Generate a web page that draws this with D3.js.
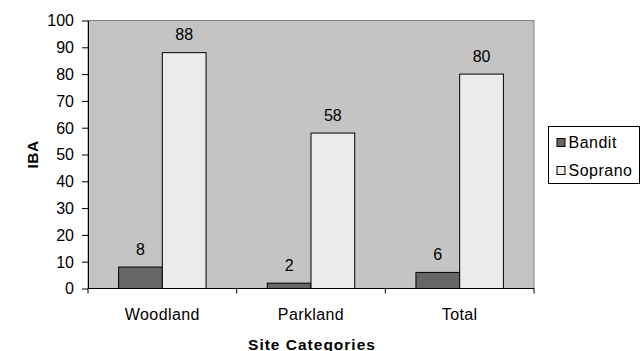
<!DOCTYPE html>
<html>
<head>
<meta charset="utf-8">
<script src="https://cdn.jsdelivr.net/npm/d3@7"></script>
<style>
  body { margin: 0; background: #fff; }
  text { font-family: "Liberation Sans", Arial, sans-serif; fill: #000; }
</style>
</head>
<body>
<svg id="chart" width="644" height="351"></svg>
<script>
const categories = ["Woodland", "Parkland", "Total"];
const seriesNames = ["Bandit", "Soprano"];
const bandit = [8, 2, 6];
const soprano = [88, 58, 80];
const yTicks = [0, 10, 20, 30, 40, 50, 60, 70, 80, 90, 100];
const colors = ["#666666", "#ebebeb"];

const FONT = "Liberation Sans, Arial, sans-serif";
const svg = d3.select("#chart");
const plot = { left: 88, top: 20.5, right: 534, bottom: 288.5 };

const x = d3.scaleBand().domain(categories).range([plot.left, plot.right]).paddingInner(0).paddingOuter(0);
const inner = d3.scaleBand().domain(seriesNames).range([0, x.bandwidth()]).paddingInner(0).paddingOuter(0.7);
const y = d3.scaleLinear().domain([0, 100]).range([plot.bottom, plot.top]);

// plot background
svg.append("rect")
  .attr("x", plot.left).attr("y", plot.top)
  .attr("width", plot.right - plot.left).attr("height", plot.bottom - plot.top)
  .attr("fill", "#c4c4c4").attr("stroke", "#808080").attr("stroke-width", 1);

const rows = categories.map((c, i) => ({ cat: c, values: [bandit[i], soprano[i]] }));

const groups = svg.selectAll("g.cat").data(rows).join("g")
  .attr("class", "cat")
  .attr("transform", d => `translate(${x(d.cat)},0)`);

groups.selectAll("rect").data(d => d.values.map((v, j) => ({ name: seriesNames[j], v, j })))
  .join("rect")
  .attr("x", d => inner(d.name))
  .attr("y", d => y(d.v))
  .attr("width", inner.bandwidth())
  .attr("height", d => y(0) - y(d.v))
  .attr("fill", d => colors[d.j])
  .attr("stroke", "#000").attr("stroke-width", 1);

groups.selectAll("text.val").data(d => d.values.map((v, j) => ({ name: seriesNames[j], v })))
  .join("text")
  .attr("class", "val")
  .attr("x", d => inner(d.name) + inner.bandwidth() / 2)
  .attr("y", d => y(d.v) - 12.5)
  .attr("text-anchor", "middle")
  .attr("font-size", 16)
  .text(d => d.v);

// y axis
const yAxis = svg.append("g").attr("transform", `translate(${plot.left},0)`)
  .call(d3.axisLeft(y).tickValues(yTicks).tickSize(6).tickSizeOuter(0).tickPadding(8));
yAxis.select(".domain").attr("stroke", "#000");
yAxis.selectAll(".tick line").attr("stroke", "#000");
yAxis.selectAll("text").attr("font-size", 16).attr("font-family", FONT).attr("fill", "#000")
  .attr("dy", "0.34em");

// x axis with ticks at category boundaries
const xAxis = svg.append("g").attr("transform", `translate(0,${plot.bottom})`);
xAxis.append("line").attr("x1", plot.left).attr("x2", plot.right).attr("stroke", "#000");
const bounds = categories.map(c => x(c)).concat([x(categories[categories.length - 1]) + x.bandwidth()]);
xAxis.selectAll("line.tk").data(bounds).join("line")
  .attr("class", "tk")
  .attr("x1", d => d).attr("x2", d => d).attr("y1", 0).attr("y2", 5)
  .attr("stroke", "#000");
xAxis.selectAll("text").data(categories).join("text")
  .attr("x", d => x(d) + x.bandwidth() / 2)
  .attr("y", 31.5)
  .attr("text-anchor", "middle")
  .attr("font-size", 16)
  .attr("letter-spacing", 0.4)
  .text(d => d);

// axis titles
svg.append("text")
  .attr("x", (plot.left + plot.right) / 2 + 1).attr("y", 349.5)
  .attr("text-anchor", "middle").attr("font-size", 15.5).attr("font-weight", "bold")
  .attr("letter-spacing", 1)
  .text("Site Categories");
svg.append("text")
  .attr("transform", `translate(38,${(plot.top + plot.bottom) / 2}) rotate(-90)`)
  .attr("text-anchor", "middle").attr("font-size", 15.5).attr("font-weight", "bold")
  .attr("letter-spacing", 0.5)
  .text("IBA");

// legend
const legend = svg.append("g").attr("transform", "translate(548.5,126.5)");
legend.append("rect").attr("width", 91).attr("height", 57)
  .attr("fill", "#fff").attr("stroke", "#000");
seriesNames.forEach((name, i) => {
  const row = legend.append("g").attr("transform", `translate(8,${16 + i * 28})`);
  row.append("rect").attr("x", 0.5).attr("y", -4).attr("width", 8).attr("height", 8)
    .attr("fill", colors[i]).attr("stroke", "#000");
  row.append("text").attr("x", 12).attr("y", 5.8).attr("font-size", 16)
    .attr("letter-spacing", 0.5)
    .text(name);
});
</script>
</body>
</html>
